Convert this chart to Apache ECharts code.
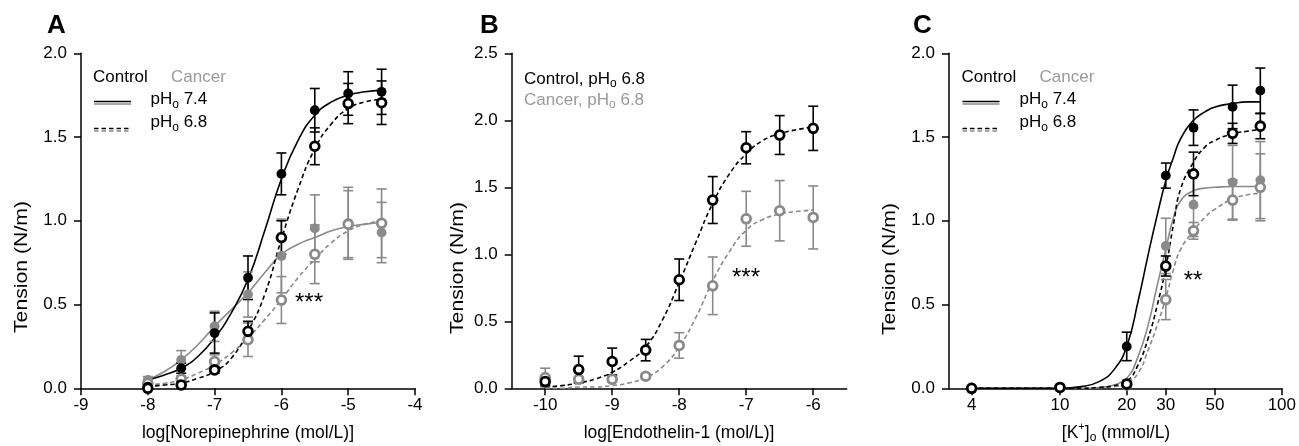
<!DOCTYPE html>
<html><head><meta charset="utf-8">
<script src="https://cdn.jsdelivr.net/npm/echarts@6/dist/echarts.min.js"></script>
<style>html,body{margin:0;padding:0;background:#fff}#c{width:1299px;height:446px}</style>
</head><body><div id="c"></div>
<script>
// ---------- Panel A : norepinephrine ----------
const xA = [-8, -7.5, -7, -6.5, -6, -5.5, -5, -4.5];
const aCtrl74 = [0.01, 0.12, 0.33, 0.66, 1.28, 1.66, 1.76, 1.77];
const aCtrl74Err = [0.01, 0.03, 0.12, 0.13, 0.125, 0.13, 0.13, 0.135];
const aCtrl68 = [0.00, 0.02, 0.11, 0.34, 0.90, 1.445, 1.70, 1.705];
const aCtrl68Err = [0.01, 0.02, 0.02, 0.06, 0.10, 0.11, 0.12, 0.13];
const aCanc74 = [0.05, 0.17, 0.37, 0.56, 0.79, 0.955, 0.985, 0.93];
const aCanc74Err = [0.02, 0.055, 0.09, 0.135, 0.22, 0.20, 0.215, 0.18];
const aCanc68 = [0.03, 0.055, 0.16, 0.29, 0.527, 0.80, 0.98, 0.985];
const aCanc68Err = [0.01, 0.02, 0.04, 0.10, 0.14, 0.175, 0.20, 0.205];
// fitted curves
const xAFit = [-8, -7.75, -7.5, -7.25, -7, -6.75, -6.5, -6.25, -6, -5.75, -5.5, -5.25, -5, -4.75, -4.5];
const aFitCtrl74 = [0.05, 0.08, 0.12, 0.19, 0.30, 0.45, 0.65, 0.94, 1.25, 1.48, 1.63, 1.71, 1.75, 1.77, 1.78];
const aFitCtrl68 = [0.01, 0.02, 0.03, 0.06, 0.10, 0.18, 0.34, 0.56, 0.89, 1.19, 1.43, 1.58, 1.67, 1.71, 1.725];
const aFitCanc74 = [0.05, 0.10, 0.17, 0.26, 0.37, 0.47, 0.57, 0.69, 0.80, 0.86, 0.90, 0.94, 0.965, 0.98, 0.99];
const aFitCanc68 = [0.02, 0.03, 0.05, 0.09, 0.14, 0.21, 0.30, 0.41, 0.53, 0.66, 0.77, 0.87, 0.94, 0.98, 1.00];

// ---------- Panel B : endothelin-1 ----------
const xB = [-10, -9.5, -9, -8.5, -8, -7.5, -7, -6.5, -6];
const bCtrl68 = [0.05, 0.14, 0.20, 0.285, 0.81, 1.405, 1.795, 1.89, 1.94];
const bCtrl68Err = [0.03, 0.10, 0.10, 0.08, 0.155, 0.175, 0.12, 0.145, 0.165];
const bCanc68 = [0.08, 0.067, 0.067, 0.09, 0.32, 0.765, 1.265, 1.325, 1.275];
const bCanc68Err = [0.07, 0.02, 0.02, 0.02, 0.095, 0.215, 0.205, 0.225, 0.235];
const xBFit = [-10, -9.75, -9.5, -9.25, -9, -8.75, -8.5, -8.25, -8, -7.75, -7.5, -7.25, -7, -6.75, -6.5, -6.25, -6];
const bFitCtrl68 = [0.01, 0.02, 0.04, 0.07, 0.12, 0.20, 0.31, 0.51, 0.79, 1.09, 1.38, 1.60, 1.75, 1.85, 1.90, 1.93, 1.95];
const bFitCanc68 = [0.0, 0.0, 0.01, 0.01, 0.02, 0.04, 0.08, 0.16, 0.31, 0.53, 0.80, 1.02, 1.18, 1.26, 1.30, 1.32, 1.33];

// ---------- Panel C : K+ ----------
const xC = [4, 10, 20, 30, 40, 60, 80];
const cCtrl74 = [0, 0.005, 0.25, 1.27, 1.556, 1.68, 1.777];
const cCtrl74Err = [0, 0, 0.085, 0.075, 0.106, 0.13, 0.135];
const cCtrl68 = [0, 0.005, 0.025, 0.73, 1.28, 1.522, 1.565];
const cCtrl68Err = [0, 0, 0.01, 0.06, 0.13, 0.06, 0.075];
const cCanc74 = [0, 0.005, 0.03, 0.85, 1.096, 1.23, 1.243];
const cCanc74Err = [0, 0, 0.02, 0.165, 0.19, 0.22, 0.23];
const cCanc68 = [0, 0.005, 0.02, 0.53, 0.94, 1.124, 1.20];
const cCanc68Err = [0, 0, 0.01, 0.12, 0.05, 0.12, 0.20];
const xCFit = [4, 10, 12.5, 15, 17.5, 20, 22.5, 25, 27.5, 30, 32.5, 35, 40, 45, 50, 60, 70, 80];
const cFitCtrl74 = [0, 0.0, 0.01, 0.04, 0.11, 0.25, 0.52, 0.80, 1.04, 1.24, 1.38, 1.49, 1.60, 1.65, 1.68, 1.70, 1.71, 1.71];
const cFitCtrl68 = [0, 0, 0, 0.005, 0.015, 0.04, 0.14, 0.30, 0.50, 0.72, 0.98, 1.19, 1.35, 1.44, 1.48, 1.52, 1.535, 1.545];
const cFitCanc74 = [0, 0, 0, 0.005, 0.02, 0.06, 0.19, 0.38, 0.62, 0.83, 1.02, 1.12, 1.18, 1.195, 1.20, 1.205, 1.205, 1.205];
const cFitCanc68 = [0, 0, 0, 0.005, 0.01, 0.03, 0.09, 0.23, 0.38, 0.54, 0.71, 0.83, 0.94, 1.02, 1.07, 1.13, 1.155, 1.165];
const cTicks = [4, 10, 20, 30, 50, 100];

// ---------- styles ----------
const FONT = '"Liberation Sans", Arial, Helvetica, sans-serif';
const BLACK = '#000000', GRAY = '#8a8a8a', TGRAY = '#9a9a9a';
const TICK_FS = 17, LEG_FS = 17, TITLE_FS = 17.5;

const chart = echarts.init(document.getElementById('c'));
const mctx = document.createElement('canvas').getContext('2d');
function tw(t, s, w) { mctx.font = (w || 'normal') + ' ' + s + 'px ' + FONT; return mctx.measureText(t).width; }

function run(x, y, parts, align) {
  const total = parts.reduce((s, p) => s + tw(p.t, p.s), 0);
  let cx = align === 'center' ? x - total / 2 : x;
  return parts.map(p => {
    const el = { type: 'text', x: cx, y: y + (p.dy || 0), silent: true,
      style: { text: p.t, fill: p.c || BLACK, fontSize: p.s, fontFamily: FONT, textAlign: 'left', textVerticalAlign: 'middle' } };
    cx += tw(p.t, p.s);
    return el;
  });
}
function lineEl(x1, y1, x2, y2, color, dashed) {
  return { type: 'line', silent: true, shape: { x1, y1, x2, y2 },
    style: { stroke: color, lineWidth: 1.6, lineDash: dashed ? [4.5, 3] : null } };
}

function axisCommon() {
  return {
    axisLine: { onZero: false, lineStyle: { color: BLACK, width: 1.5 } },
    axisTick: { length: 7, lineStyle: { color: BLACK, width: 1.5 } },
    splitLine: { show: false },
    axisLabel: { color: BLACK, fontSize: TICK_FS, fontFamily: FONT, showMinLabel: true, showMaxLabel: true }
  };
}
function xAx(idx, extra) {
  const a = axisCommon();
  a.gridIndex = idx; a.axisLabel.margin = 9;
  return Object.assign(a, extra);
}
function yAx(idx, max) {
  const a = axisCommon();
  a.gridIndex = idx; a.type = 'value'; a.min = 0; a.max = max; a.interval = 0.5;
  a.axisLabel.margin = 14; a.axisLabel.formatter = v => v.toFixed(1);
  return a;
}

function zip(xs, ys) { return xs.map((x, i) => [x, ys[i]]); }
function zip3(xs, ys, es) { return xs.map((x, i) => [x, ys[i], es[i]]); }

function fit(ai, xs, ys, color, dashed) {
  return { type: 'line', xAxisIndex: ai, yAxisIndex: ai, data: zip(xs, ys), smooth: 0.5,
    showSymbol: false, symbol: 'none', silent: true, z: 2,
    lineStyle: { color, width: 1.6, type: dashed ? [4.5, 3] : 'solid' } };
}
function errBars(ai, xs, ys, es, color) {
  return { type: 'custom', xAxisIndex: ai, yAxisIndex: ai, data: zip3(xs, ys, es), silent: true, z: 3,
    encode: { x: 0, y: 1 },
    renderItem: function (params, api) {
      const x = api.value(0), y = api.value(1), e = api.value(2);
      const hi = api.coord([x, y + e]);
      const lo = api.coord([x, Math.max(0, y - e)]);
      const st = { stroke: color, lineWidth: 1.6 };
      const w = 5;
      return { type: 'group', children: [
        { type: 'line', shape: { x1: hi[0], y1: hi[1], x2: lo[0], y2: lo[1] }, style: st },
        { type: 'line', shape: { x1: hi[0] - w, y1: hi[1], x2: hi[0] + w, y2: hi[1] }, style: st },
        { type: 'line', shape: { x1: lo[0] - w, y1: lo[1], x2: lo[0] + w, y2: lo[1] }, style: st }
      ] };
    } };
}
function marks(ai, xs, ys, color, open, z) {
  return { type: 'scatter', xAxisIndex: ai, yAxisIndex: ai, data: zip(xs, ys), symbol: 'circle', silent: true,
    symbolSize: open ? 8.8 : 9.8, z: z,
    itemStyle: open ? { color: '#ffffff', borderColor: color, borderWidth: 2.8, opacity: 1 } : { color: color, opacity: 1 } };
}

const series = [
  // A
  fit(0, xAFit, aFitCanc74, GRAY, false), fit(0, xAFit, aFitCanc68, GRAY, true),
  fit(0, xAFit, aFitCtrl74, BLACK, false), fit(0, xAFit, aFitCtrl68, BLACK, true),
  errBars(0, xA, aCanc74, aCanc74Err, GRAY), errBars(0, xA, aCanc68, aCanc68Err, GRAY),
  errBars(0, xA, aCtrl74, aCtrl74Err, BLACK), errBars(0, xA, aCtrl68, aCtrl68Err, BLACK),
  marks(0, xA, aCanc74, GRAY, false, 4), marks(0, xA, aCanc68, GRAY, true, 5),
  marks(0, xA, aCtrl74, BLACK, false, 6), marks(0, xA, aCtrl68, BLACK, true, 7),
  // B
  fit(1, xBFit, bFitCanc68, GRAY, true), fit(1, xBFit, bFitCtrl68, BLACK, true),
  errBars(1, xB, bCanc68, bCanc68Err, GRAY), errBars(1, xB, bCtrl68, bCtrl68Err, BLACK),
  marks(1, xB, bCanc68, GRAY, true, 5), marks(1, xB, bCtrl68, BLACK, true, 7),
  // C
  fit(2, xCFit, cFitCanc74, GRAY, false), fit(2, xCFit, cFitCanc68, GRAY, true),
  fit(2, xCFit, cFitCtrl74, BLACK, false), fit(2, xCFit, cFitCtrl68, BLACK, true),
  errBars(2, xC, cCanc74, cCanc74Err, GRAY), errBars(2, xC, cCanc68, cCanc68Err, GRAY),
  errBars(2, xC, cCtrl74, cCtrl74Err, BLACK), errBars(2, xC, cCtrl68, cCtrl68Err, BLACK),
  marks(2, xC, cCanc74, GRAY, false, 4), marks(2, xC, cCanc68, GRAY, true, 5),
  marks(2, xC, cCtrl74, BLACK, false, 6), marks(2, xC, cCtrl68, BLACK, true, 7)
];

// ---------- text / legends ----------
const g = [];
function letter(t, x, y) { g.push({ type: 'text', x, y, silent: true, style: { text: t, fill: BLACK, fontSize: 26, fontWeight: 'bold', fontFamily: FONT, textAlign: 'left', textVerticalAlign: 'middle' } }); }
letter('A', 47, 26); letter('B', 480, 26); letter('C', 913, 26);

const YT = 'Tension (N/m)', YT_FS = 18.5;
const ytScale = 132 / tw(YT, YT_FS);
function ytitle(x, y) { g.push({ type: 'text', x, y, rotation: Math.PI / 2, scaleX: ytScale, scaleY: 1, silent: true, style: { text: YT, fill: BLACK, fontSize: YT_FS, fontFamily: FONT, textAlign: 'center', textVerticalAlign: 'middle' } }); }
ytitle(22, 267); ytitle(458, 268); ytitle(890, 269);

function pHParts(val, c) { return [{ t: 'pH', s: LEG_FS, c }, { t: 'o', s: 12, dy: 5, c }, { t: ' ' + val, s: LEG_FS, c }]; }
function fullLegend(x0, lx, ty) {
  g.push(...run(x0, ty, [{ t: 'Control', s: LEG_FS }]));
  g.push(...run(x0 + 78, ty, [{ t: 'Cancer', s: LEG_FS, c: TGRAY }]));
  g.push(lineEl(x0 + 1, ty + 24, x0 + 38, ty + 24, BLACK, false));
  g.push(lineEl(x0 + 1, ty + 26.5, x0 + 38, ty + 26.5, GRAY, false));
  g.push(lineEl(x0 + 1, ty + 51, x0 + 38, ty + 51, BLACK, true));
  g.push(lineEl(x0 + 1, ty + 53.5, x0 + 38, ty + 53.5, GRAY, true));
  g.push(...run(lx, ty + 22, pHParts('7.4', BLACK)));
  g.push(...run(lx, ty + 45, pHParts('6.8', BLACK)));
}
fullLegend(93, 150.5, 77.5);
fullLegend(961.5, 1019.5, 77.5);
g.push(...run(524, 79, [{ t: 'Control, ', s: LEG_FS }].concat(pHParts('6.8', BLACK))));
g.push(...run(524, 100, [{ t: 'Cancer, ', s: LEG_FS, c: TGRAY }].concat(pHParts('6.8', TGRAY))));

// x titles
g.push(...run(248, 433, [{ t: 'log[Norepinephrine (mol/L)]', s: TITLE_FS }], 'center'));
g.push(...run(679, 433, [{ t: 'log[Endothelin-1 (mol/L)]', s: TITLE_FS }], 'center'));
g.push(...run(1116, 433, [{ t: '[K', s: TITLE_FS }, { t: '+', s: 11, dy: -6 }, { t: ']', s: TITLE_FS }, { t: 'o', s: 12, dy: 5 }, { t: ' (mmol/L)', s: TITLE_FS }], 'center'));

// significance stars
function stars(t, cx, cy) { g.push({ type: 'text', x: cx, y: cy + 5, silent: true, style: { text: t, fill: BLACK, fontSize: 24, fontFamily: FONT, textAlign: 'center', textVerticalAlign: 'middle' } }); }
stars('***', 309, 298); stars('***', 746, 273); stars('**', 1193, 276);

const option = {
  animation: false,
  backgroundColor: '#ffffff',
  grid: [
    { left: 81, top: 53.3, width: 334, height: 335 },
    { left: 511.7, top: 53.3, width: 335, height: 335 },
    { left: 949, top: 53.3, width: 334.3, height: 335 }
  ],
  xAxis: [
    xAx(0, { type: 'value', min: -9, max: -4, interval: 1 }),
    (function () { const a = xAx(1, { type: 'value', min: -10.5, max: -5.5 });
      a.axisTick.customValues = [-10, -9, -8, -7, -6]; a.axisLabel.customValues = [-10, -9, -8, -7, -6]; return a; })(),
    (function () { const a = xAx(2, { type: 'log', logBase: 10, min: 3.1623, max: 100 });
      a.axisTick.customValues = cTicks; a.axisLabel.customValues = cTicks;
      a.axisLabel.formatter = v => String(Math.round(v)); return a; })()
  ],
  yAxis: [yAx(0, 2), yAx(1, 2.5), yAx(2, 2)],
  series: series,
  graphic: { elements: g }
};
chart.setOption(option);
</script>
</body></html>
